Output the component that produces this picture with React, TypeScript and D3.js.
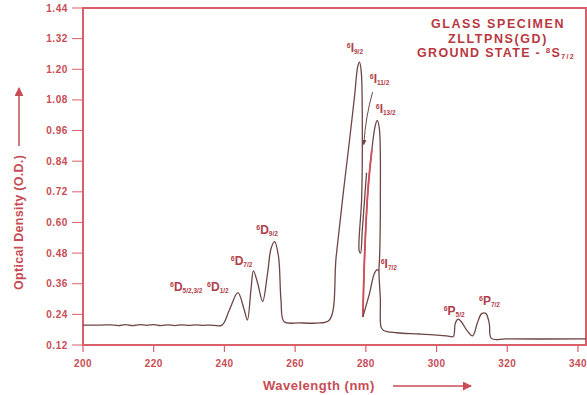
import React from "react";
import * as d3 from "d3";

// wavelength (nm), optical density (O.D.)
const baseTrace: [number, number][] = [
  [200, 0.198], [205, 0.198], [208, 0.199], [210, 0.196], [212, 0.2], [214, 0.196],
  [216, 0.2], [218, 0.197], [220, 0.2], [222, 0.196], [224, 0.199], [226, 0.196],
  [228, 0.199], [230, 0.197], [232, 0.199], [234, 0.197], [236, 0.198], [239.3, 0.198],
  [241.4, 0.257], [243.8, 0.325], [245.6, 0.257], [246.5, 0.218], [247.5, 0.336],
  [248.2, 0.41], [249.4, 0.362], [250.8, 0.29], [252.2, 0.401], [253.2, 0.499],
  [254.2, 0.525], [255.3, 0.466], [256.0, 0.296], [256.9, 0.211], [261.2, 0.207],
  [266, 0.206], [269.7, 0.218], [271.6, 0.466], [273.5, 0.702], [275.4, 0.924],
  [276.8, 1.094], [277.7, 1.21], [278.2, 1.228], [278.7, 1.19], [279.0, 0.924],
  [278.8, 0.69], [278.1, 0.49], [278.5, 0.48], [279.0, 0.571], [280.2, 0.795],
];

const secondBand: [number, number][] = [
  [279.15, 0.23], [279.7, 0.49], [280.6, 0.728], [281.7, 0.885], [282.6, 0.975],
  [283.2, 1.0], [283.8, 0.97], [284.1, 0.69], [283.9, 0.47], [283.7, 0.41],
  [284.1, 0.3], [284.3, 0.19], [285.0, 0.177], [288.7, 0.168], [295.3, 0.163],
  [302.8, 0.156], [304.7, 0.153], [305.3, 0.205], [306.1, 0.221], [307.0, 0.211],
  [308.5, 0.179], [310.2, 0.156], [311.5, 0.205], [312.7, 0.242], [313.9, 0.244],
  [314.9, 0.205], [315.5, 0.146], [319.8, 0.144], [342.3, 0.144],
];

const i72Shoulder: [number, number][] = [
  [279.15, 0.23], [281.0, 0.32], [282.4, 0.4], [283.2, 0.415], [283.7, 0.41],
];

const xTicks = [200, 220, 240, 260, 280, 300, 320, 340];
const yTicks = [0.12, 0.24, 0.36, 0.48, 0.6, 0.72, 0.84, 0.96, 1.08, 1.2, 1.32, 1.44];

// level labels: [term, subscript, nm, od]
const levelLabels: [string, string, number, number][] = [
  ["D", "5/2,3/2", 224.6, 0.332],
  ["D", "1/2", 235.1, 0.332],
  ["D", "7/2", 241.8, 0.434],
  ["D", "9/2", 249.0, 0.555],
  ["I", "9/2", 274.6, 1.269],
  ["I", "11/2", 281.1, 1.148],
  ["I", "13/2", 282.8, 1.03],
  ["I", "7/2", 284.2, 0.422],
  ["P", "5/2", 302.0, 0.238],
  ["P", "7/2", 312.0, 0.277],
];

const titleLines = ["GLASS SPECIMEN", "ZLLTPNS(GD)"];

const W = 587;
const H = 395;
const left = 83;
const right = 586;
const top = 8;
const bottom = 345;

const FRAME = "#d9606a";
const TEXT = "#c84c54";
const TRACE = "#6e4646";
const FONT = "'Liberation Sans', Arial, sans-serif";

export default function App() {
  const x = d3.scaleLinear().domain([200, 340]).range([left, 578]);
  const y = d3.scaleLinear().domain([0.12, 1.44]).range([bottom, top]);

  const line = d3
    .line<[number, number]>()
    .x(d => x(d[0]))
    .y(d => y(d[1]))
    .curve(d3.curveCatmullRom.alpha(0.5));

  const fmt = d3.format(".2f");

  // arrow for the 6I11/2 label
  const arrowPath = d3.path();
  arrowPath.moveTo(x(281.9), y(1.11));
  arrowPath.quadraticCurveTo(x(280.0), y(1.02), x(279.4), y(0.905));

  return (
    <svg
      width={W}
      height={H}
      style={{ position: "absolute", left: 0, top: 0, background: "#fff" }}
      fontFamily={FONT}
    >
      <defs>
        <marker id="ah" viewBox="0 0 10 10" refX="9" refY="5" markerWidth="6" markerHeight="6" orient="auto">
          <path d="M0,0 L10,5 L0,10 z" fill={TEXT} />
        </marker>
        <marker id="ahs" viewBox="0 0 10 10" refX="9" refY="5" markerWidth="5" markerHeight="5" orient="auto">
          <path d="M0,0 L10,5 L0,10 z" fill={TRACE} />
        </marker>
      </defs>

      {/* frame */}
      <rect x={left} y={top} width={right - left} height={bottom - top} fill="none" stroke={FRAME} strokeWidth={2} />

      {/* y axis */}
      {yTicks.map(t => (
        <g key={t}>
          <line x1={left - 11} x2={left} y1={y(t)} y2={y(t)} stroke={FRAME} strokeWidth={1} />
          <text x={left - 15} y={y(t)} dy="0.35em" textAnchor="end" fontSize={10} letterSpacing={0.6} fontWeight="bold" fill={TEXT}>
            {fmt(t)}
          </text>
        </g>
      ))}

      {/* x axis */}
      {xTicks.map(t => (
        <g key={t}>
          <line x1={x(t)} x2={x(t)} y1={bottom} y2={bottom + 7} stroke={FRAME} strokeWidth={1.2} />
          <text x={x(t)} y={bottom + 22} textAnchor="middle" fontSize={10} letterSpacing={0.4} fontWeight="bold" fill={TEXT}>
            {t}
          </text>
        </g>
      ))}

      {/* axis titles */}
      <text x={263} y={390} fontSize={13} letterSpacing={0.5} fontWeight="bold" fill={TEXT}>
        Wavelength (nm)
      </text>
      <line x1={393} x2={471} y1={386} y2={386} stroke={TEXT} strokeWidth={1.5} markerEnd="url(#ah)" />

      <text
        transform={`translate(23,290) rotate(-90)`}
        fontSize={12.5}
        letterSpacing={0.3}
        fontWeight="bold"
        fill={TEXT}
      >
        Optical Density (O.D.)
      </text>
      <line x1={19} x2={19} y1={146} y2={88} stroke={TEXT} strokeWidth={1.5} markerEnd="url(#ah)" />

      {/* title */}
      {titleLines.map((s, i) => (
        <text key={s} x={498} y={28 + i * 14.5} textAnchor="middle" fontSize={12.5} fontWeight="bold" fill="#b8383f" letterSpacing={1.6}>
          {s}
        </text>
      ))}
      <text x={496} y={57} textAnchor="middle" fontSize={12.5} fontWeight="bold" fill="#b8383f" letterSpacing={1.3}>
        GROUND STATE - <tspan fontSize={8} dy={-4}>8</tspan>
        <tspan dy={4}>S</tspan>
        <tspan fontSize={7} dy={2}>7/2</tspan>
      </text>

      {/* spectrum */}
      <path d={line(baseTrace) ?? ""} fill="none" stroke={TRACE} strokeWidth={1.3} />
      <path d={line(secondBand) ?? ""} fill="none" stroke={TRACE} strokeWidth={1.3} />
      <path d={line(secondBand.slice(0, 4)) ?? ""} fill="none" stroke="#d0505a" strokeWidth={1.8} />
      <path d={line(i72Shoulder) ?? ""} fill="none" stroke={TRACE} strokeWidth={1.3} />
      <path d={arrowPath.toString()} fill="none" stroke={TRACE} strokeWidth={1} markerEnd="url(#ahs)" />

      {/* level labels */}
      {levelLabels.map(([term, sub, nm, od], i) => (
        <text key={i} x={x(nm)} y={y(od)} fontWeight="bold" fill="#b0404a">
          <tspan fontSize={7} dy={-4}>6</tspan>
          <tspan fontSize={12} dy={4}>{term}</tspan>
          <tspan fontSize={6.5} dy={2}>{sub}</tspan>
        </text>
      ))}
    </svg>
  );
}
